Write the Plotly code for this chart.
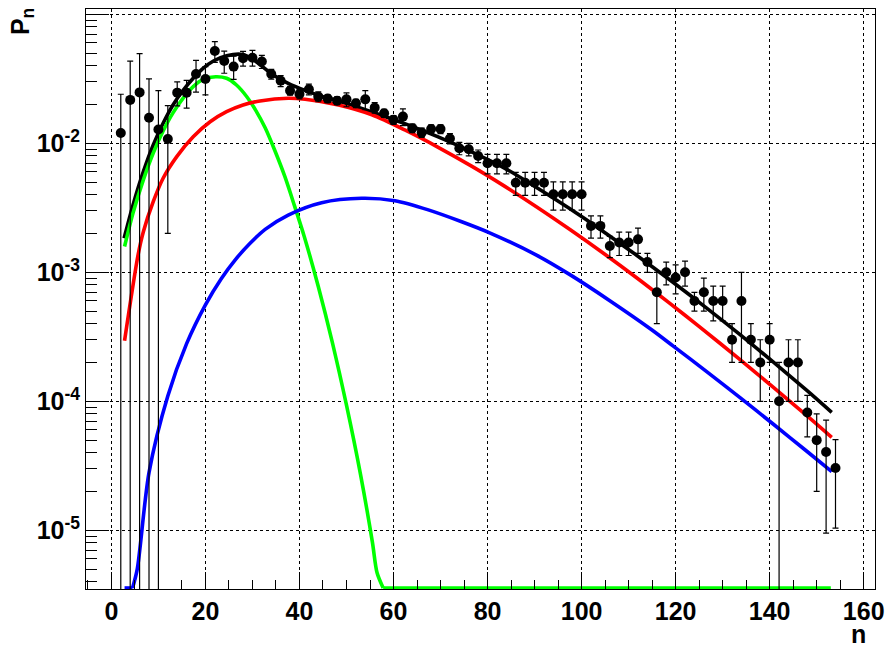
import plotly.graph_objects as go

# ---------------- data ----------------
n_data = list(range(2, 155, 2))
p_data = [0.012, 0.0217, 0.0248, 0.0158, 0.0128, 0.0108, 0.0247, 0.0247, 0.0344, 0.0315,
          0.0519, 0.0434, 0.0393, 0.0456, 0.0461, 0.043, 0.0344, 0.0305, 0.0256, 0.0241,
          0.0262, 0.023, 0.0222, 0.0214, 0.0219, 0.0204, 0.0219, 0.0189, 0.0171, 0.0152,
          0.0161, 0.0131, 0.0121, 0.0129, 0.0129, 0.0109, 0.00915, 0.00898, 0.00797, 0.0070,
          0.0070, 0.0070, 0.00495, 0.00495, 0.00495, 0.00495, 0.00403, 0.00403, 0.00403, 0.00403,
          0.00229, 0.00229, 0.0016, 0.0017, 0.0017, 0.0018, 0.0012, 0.0007, 0.001, 0.00091,
          0.001, 0.0006, 0.0007, 0.0006, 0.0006, 0.0003, 0.0006, 0.0003, 0.0002, 0.0003,
          0.0001, 0.0002, 0.0002, 8.2e-5, 5.0e-5, 4.05e-5, 3.04e-5]
p_err = [0.012, 0.0217, 0.0248, 0.0158, 0.0128, 0.0088, 0.0052, 0.006, 0.0095, 0.0078,
         0.0095, 0.0085, 0.008, 0.006, 0.0065, 0.005, 0.003, 0.003, 0.002, 0.002,
         0.0025, 0.002, 0.0015, 0.0015, 0.0027, 0.0015, 0.0037, 0.0018, 0.0012, 0.0012,
         0.0024, 0.001, 0.001, 0.001, 0.001, 0.001, 0.001, 0.001, 0.0009, 0.0012,
         0.0012, 0.0012, 0.001, 0.001, 0.001, 0.001, 0.001, 0.001, 0.001, 0.001,
         0.00045, 0.00045, 0.0003, 0.00035, 0.00035, 0.0004, 0.0002, 0.0003, 0.0002, 0.00023,
         0.00022, 0.0001, 0.0002, 0.00018, 0.00018, 0.0001, 0.0004, 0.0001, 0.0001, 0.0001,
         0.0001, 0.0001, 0.0001, 2.9e-5, 3.0e-5, 3.1e-5, 2.0e-5]

# total fit (black)
total_n = [2.7, 4.6, 6.8, 8.9, 11, 13.1, 15.3, 17.4, 19.5, 21.7, 24.5, 28, 30.7, 34.1, 37.6,
           41.2, 44.7, 48.3, 55.4, 62.4, 69.5, 76.6, 83.7, 90.5, 97.6, 104.6, 111.7, 118.8,
           126.6, 133.7, 140.8, 147.9, 153.2]
total_p = [0.001837, 0.003327, 0.006026, 0.009705, 0.01429, 0.01982, 0.02588, 0.03192,
           0.03811, 0.04345, 0.04775, 0.04875, 0.04315, 0.03451, 0.02917, 0.0257, 0.02317,
           0.02128, 0.0175, 0.01419, 0.0112, 0.00859, 0.0064, 0.00452, 0.00309, 0.002075,
           0.001355, 0.000871, 0.000528, 0.000329, 0.000201, 0.0001213, 8.2e-5]

# soft component (green); last two points lie on the lower edge of the axis
soft_n = [2.8, 4.6, 6.8, 8.9, 11, 13.1, 15.3, 17.4, 19.5, 22.2, 24.5, 26.6, 28.8, 30.7, 32.7,
          34.8, 36.9, 39, 41, 44, 47, 50, 53, 55.5, 56.5, 57.8, 153]
soft_p = [0.001585, 0.002884, 0.005212, 0.008414, 0.01245, 0.01722, 0.02249, 0.02748,
          0.03126, 0.03281, 0.03192, 0.02831, 0.02296, 0.01799, 0.01318, 0.00871, 0.005508,
          0.003228, 0.001905, 0.000776, 0.000285, 9.33e-5, 2.69e-5, 8.13e-6, 4.68e-6,
          3.57e-6, 3.57e-6]

# semi-hard component (red)
semi_n = [2.8, 5.7, 6.8, 8.9, 11, 13.9, 17.4, 21, 24.5, 28, 31.6, 37.6, 41.2, 48.3, 55.4,
          62.4, 69.5, 76.6, 83.6, 90.3, 97.6, 104.5, 111.7, 118.5, 124.9, 133.7, 140.8,
          147.9, 153.2]
semi_p = [2.95e-4, 0.00138, 0.002065, 0.003524, 0.005358, 0.007889, 0.01125, 0.01469,
          0.01758, 0.01982, 0.02128, 0.02234, 0.02193, 0.01982, 0.01663, 0.01268, 0.00931,
          0.00665, 0.004656, 0.003243, 0.002138, 0.001419, 0.000908, 0.000585, 0.000383,
          0.0002104, 0.0001282, 7.73e-5, 5.25e-5]

# hard component (blue); first two points lie on the lower edge of the axis
hard_n = [2.8, 4.5, 5.5, 8, 12, 16, 20, 23.4, 26.3, 29.5, 32.7, 37.6, 44.7, 53.2, 60.3, 67.4,
          74.5, 80.2, 90.3, 97.6, 106, 114.9, 119.5, 126.6, 133.7, 140.8, 147.9, 153.2]
hard_p = [3.57e-6, 3.57e-6, 5e-6, 2.8e-5, 1.1e-4, 2.8e-4, 5.6e-4, 0.000897, 0.001245, 0.001679,
          0.002153, 0.00278, 0.003467, 0.00375, 0.003589, 0.003048, 0.002466, 0.002042,
          0.001365, 0.000955, 0.0006026, 0.0003589, 0.0002679, 0.0001698, 0.0001067,
          6.64e-5, 4.10e-5, 2.85e-5]

x_ticks = [0, 20, 40, 60, 80, 100, 120, 140, 160]
y_ticks = [1e-5, 1e-4, 1e-3, 1e-2, 1e-1]
y_tick_text = ["10<sup>-5</sup>", "10<sup>-4</sup>", "10<sup>-3</sup>", "10<sup>-2</sup>", "10<sup>-1</sup>"]

# ---------------- figure ----------------
fig = go.Figure()


def curve(xs, ys, col, shape="spline"):
    fig.add_trace(go.Scatter(x=xs, y=ys, mode="lines",
                             line=dict(color=col, width=3.6, shape=shape, smoothing=0.8),
                             hoverinfo="skip"))


GREEN = "#00ff00"
curve(total_n, total_p, "black")
curve(soft_n[:-1], soft_p[:-1], GREEN)
curve(soft_n[-2:], soft_p[-2:], GREEN, shape="linear")
curve(semi_n, semi_p, "#ff0000")
curve(hard_n[1:], hard_p[1:], "#0000ff")
curve(hard_n[:2], hard_p[:2], "#0000ff", shape="linear")

fig.add_trace(go.Scatter(x=n_data, y=p_data, mode="markers",
                         marker=dict(color="black", size=10),
                         error_y=dict(type="data", array=p_err, color="black",
                                      thickness=1.2, width=3)))

FONT = "Liberation Sans, Arial, Helvetica, sans-serif"
fig.update_layout(width=889, height=647, margin=dict(l=86, r=14, t=9, b=58),
                  plot_bgcolor="white", paper_bgcolor="white", showlegend=False,
                  font=dict(family=FONT, color="black"))

fig.update_xaxes(range=[-5.4, 162.4], tickmode="array", tickvals=x_ticks,
                 ticktext=[str(v) for v in x_ticks], automargin=False,
                 ticks="inside", ticklen=17, tickwidth=1, tickcolor="black",
                 showline=True, linecolor="black", linewidth=1, mirror=True,
                 showgrid=True, gridcolor="black", griddash="dot", gridwidth=1,
                 zeroline=False, tickfont=dict(size=25, weight="bold", family=FONT),
                 minor=dict(ticks="inside", ticklen=9, dtick=5, tick0=0,
                            tickcolor="black", showgrid=False))

fig.update_yaxes(type="log", range=[-5.455, -0.959], tickmode="array", tickvals=y_ticks,
                 ticktext=y_tick_text, automargin=False,
                 ticks="inside", ticklen=23, tickwidth=1, tickcolor="black",
                 showline=True, linecolor="black", linewidth=1, mirror=True,
                 showgrid=True, gridcolor="black", griddash="dot", gridwidth=1,
                 zeroline=False, tickfont=dict(size=25, weight="bold", family=FONT),
                 minor=dict(ticks="inside", ticklen=11, dtick="D1",
                            tickcolor="black", showgrid=False))

fig.add_annotation(text="<b>n</b>", xref="paper", yref="paper", x=0.9797, y=-0.0776,
                   showarrow=False, font=dict(size=25, family=FONT), height=20,
                   xanchor="center", yanchor="middle")
fig.add_annotation(text="<b>P<sub>n</sub></b>", xref="paper", yref="paper",
                   x=-0.081, y=0.9776, textangle=-90, showarrow=False,
                   font=dict(size=25, family=FONT), xanchor="center", yanchor="middle")

fig.write_html("out.html")
